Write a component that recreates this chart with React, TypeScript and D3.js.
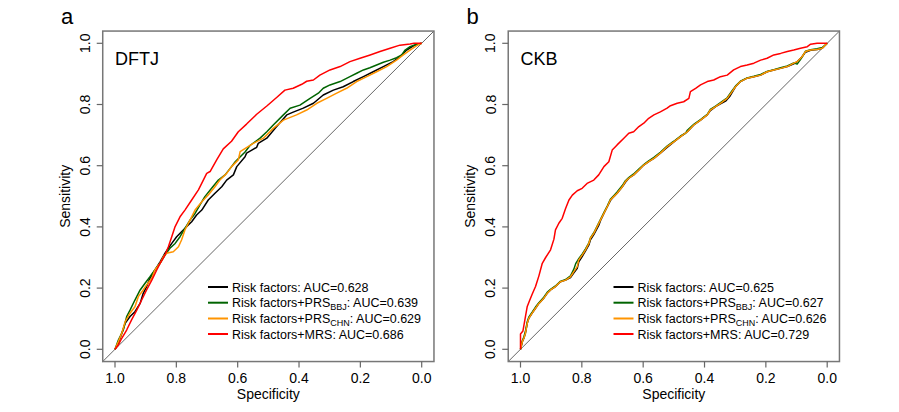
import React from "react";
import * as d3 from "d3";

type Pt = [number, number];

// ---- Panel a (DFTJ): [specificity, sensitivity]
const dftjRisk: Pt[] = [[1,0],[0.989,0.020],[0.978,0.052],[0.967,0.085],[0.951,0.107],[0.935,0.123],[0.918,0.150],[0.908,0.183],[0.897,0.205],[0.886,0.232],[0.870,0.259],[0.853,0.286],[0.837,0.314],[0.815,0.346],[0.799,0.368],[0.783,0.384],[0.766,0.401],[0.750,0.417],[0.734,0.439],[0.717,0.455],[0.696,0.488],[0.674,0.510],[0.652,0.531],[0.636,0.553],[0.614,0.570],[0.603,0.597],[0.576,0.629],[0.571,0.641],[0.554,0.651],[0.538,0.660],[0.533,0.673],[0.505,0.690],[0.473,0.728],[0.440,0.766],[0.419,0.775],[0.386,0.788],[0.353,0.804],[0.321,0.831],[0.288,0.847],[0.256,0.858],[0.223,0.875],[0.190,0.891],[0.158,0.907],[0.125,0.924],[0.093,0.940],[0.071,0.956],[0.049,0.978],[0.027,0.992],[0,1]];
const dftjBBJ: Pt[] = [[1,0],[0.989,0.030],[0.973,0.063],[0.962,0.107],[0.951,0.128],[0.935,0.161],[0.918,0.194],[0.902,0.216],[0.886,0.237],[0.870,0.259],[0.853,0.281],[0.837,0.308],[0.821,0.330],[0.804,0.346],[0.788,0.368],[0.772,0.395],[0.755,0.423],[0.739,0.444],[0.723,0.472],[0.707,0.499],[0.685,0.526],[0.663,0.553],[0.641,0.570],[0.620,0.597],[0.608,0.613],[0.576,0.645],[0.560,0.666],[0.527,0.690],[0.505,0.711],[0.484,0.733],[0.451,0.766],[0.429,0.788],[0.397,0.798],[0.364,0.820],[0.337,0.837],[0.321,0.853],[0.299,0.864],[0.266,0.875],[0.234,0.891],[0.212,0.902],[0.190,0.913],[0.169,0.920],[0.147,0.929],[0.125,0.938],[0.103,0.945],[0.082,0.953],[0.065,0.962],[0.054,0.978],[0.038,0.989],[0.016,0.997],[0,1]];
const dftjCHN: Pt[] = [[1,0],[0.989,0.025],[0.978,0.052],[0.967,0.090],[0.951,0.118],[0.935,0.139],[0.924,0.172],[0.908,0.194],[0.897,0.210],[0.880,0.232],[0.870,0.259],[0.853,0.281],[0.842,0.303],[0.832,0.314],[0.810,0.319],[0.793,0.335],[0.783,0.357],[0.772,0.390],[0.755,0.423],[0.739,0.455],[0.717,0.482],[0.696,0.504],[0.674,0.531],[0.658,0.553],[0.636,0.575],[0.620,0.597],[0.598,0.619],[0.592,0.646],[0.570,0.660],[0.549,0.673],[0.516,0.690],[0.484,0.722],[0.451,0.749],[0.408,0.766],[0.375,0.782],[0.342,0.804],[0.310,0.820],[0.277,0.837],[0.245,0.853],[0.212,0.875],[0.179,0.891],[0.147,0.907],[0.114,0.924],[0.082,0.945],[0.060,0.962],[0.038,0.978],[0.015,0.993],[0,1]];
const dftjMRS: Pt[] = [[1,0],[0.989,0.014],[0.978,0.036],[0.962,0.063],[0.946,0.096],[0.929,0.128],[0.913,0.161],[0.897,0.194],[0.880,0.226],[0.864,0.259],[0.853,0.281],[0.837,0.308],[0.826,0.335],[0.815,0.368],[0.804,0.401],[0.788,0.433],[0.772,0.455],[0.750,0.488],[0.728,0.521],[0.712,0.553],[0.701,0.575],[0.690,0.581],[0.668,0.620],[0.647,0.655],[0.620,0.680],[0.598,0.711],[0.571,0.736],[0.538,0.768],[0.505,0.795],[0.473,0.823],[0.446,0.847],[0.419,0.853],[0.391,0.866],[0.375,0.876],[0.353,0.880],[0.332,0.896],[0.299,0.913],[0.266,0.924],[0.234,0.940],[0.201,0.951],[0.168,0.962],[0.136,0.973],[0.103,0.984],[0.071,0.994],[0.038,0.998],[0.025,1.0],[0,1]];

// ---- Panel b (CKB)
const ckbRisk: Pt[] = [[1,0],[0.994,0.025],[0.989,0.036],[0.984,0.052],[0.978,0.085],[0.973,0.101],[0.962,0.118],[0.951,0.134],[0.940,0.150],[0.924,0.167],[0.913,0.183],[0.902,0.194],[0.886,0.205],[0.870,0.221],[0.853,0.226],[0.837,0.234],[0.826,0.250],[0.815,0.265],[0.810,0.286],[0.799,0.303],[0.788,0.322],[0.777,0.341],[0.772,0.358],[0.761,0.375],[0.745,0.405],[0.739,0.421],[0.728,0.444],[0.717,0.466],[0.707,0.486],[0.696,0.499],[0.685,0.510],[0.668,0.531],[0.658,0.546],[0.647,0.559],[0.631,0.570],[0.614,0.586],[0.598,0.602],[0.582,0.613],[0.565,0.624],[0.544,0.641],[0.522,0.660],[0.500,0.678],[0.478,0.695],[0.456,0.711],[0.435,0.733],[0.413,0.749],[0.391,0.766],[0.381,0.780],[0.364,0.793],[0.348,0.802],[0.330,0.812],[0.318,0.826],[0.305,0.848],[0.299,0.858],[0.283,0.875],[0.261,0.886],[0.239,0.891],[0.217,0.896],[0.196,0.907],[0.174,0.913],[0.152,0.918],[0.130,0.924],[0.109,0.933],[0.098,0.940],[0.082,0.956],[0.071,0.971],[0.054,0.977],[0.033,0.980],[0.016,0.984],[0,1]];
const ckbBBJ: Pt[] = [[1,0],[0.994,0.028],[0.989,0.040],[0.984,0.058],[0.978,0.090],[0.973,0.105],[0.962,0.121],[0.951,0.138],[0.940,0.152],[0.924,0.170],[0.913,0.186],[0.902,0.196],[0.886,0.207],[0.870,0.222],[0.853,0.228],[0.837,0.240],[0.826,0.262],[0.820,0.280],[0.810,0.296],[0.799,0.311],[0.788,0.328],[0.777,0.348],[0.772,0.364],[0.761,0.381],[0.750,0.403],[0.739,0.425],[0.728,0.447],[0.717,0.468],[0.707,0.490],[0.696,0.502],[0.685,0.514],[0.668,0.535],[0.658,0.551],[0.647,0.561],[0.631,0.573],[0.614,0.589],[0.598,0.604],[0.582,0.616],[0.565,0.627],[0.544,0.644],[0.522,0.664],[0.500,0.680],[0.478,0.697],[0.462,0.706],[0.456,0.716],[0.435,0.735],[0.413,0.751],[0.391,0.768],[0.381,0.784],[0.364,0.795],[0.348,0.806],[0.326,0.822],[0.310,0.845],[0.299,0.860],[0.283,0.876],[0.261,0.887],[0.239,0.892],[0.217,0.898],[0.196,0.908],[0.174,0.914],[0.152,0.920],[0.130,0.926],[0.109,0.936],[0.098,0.932],[0.085,0.950],[0.071,0.974],[0.054,0.979],[0.033,0.982],[0.016,0.986],[0,1]];
const ckbCHN: Pt[] = [[1,0],[0.994,0.025],[0.989,0.036],[0.984,0.052],[0.978,0.085],[0.973,0.101],[0.962,0.118],[0.951,0.134],[0.940,0.150],[0.924,0.167],[0.913,0.183],[0.902,0.194],[0.886,0.205],[0.870,0.221],[0.853,0.226],[0.837,0.237],[0.826,0.254],[0.815,0.270],[0.810,0.292],[0.799,0.308],[0.788,0.325],[0.777,0.346],[0.772,0.363],[0.761,0.379],[0.750,0.401],[0.739,0.423],[0.728,0.444],[0.717,0.466],[0.707,0.488],[0.696,0.499],[0.685,0.510],[0.668,0.531],[0.658,0.548],[0.647,0.559],[0.631,0.570],[0.614,0.586],[0.598,0.602],[0.582,0.613],[0.565,0.624],[0.544,0.641],[0.522,0.662],[0.500,0.678],[0.478,0.695],[0.456,0.711],[0.435,0.733],[0.413,0.749],[0.391,0.766],[0.381,0.782],[0.364,0.793],[0.348,0.804],[0.326,0.820],[0.310,0.842],[0.299,0.858],[0.283,0.875],[0.261,0.886],[0.239,0.891],[0.217,0.896],[0.196,0.907],[0.174,0.913],[0.152,0.918],[0.130,0.924],[0.109,0.935],[0.098,0.940],[0.082,0.956],[0.071,0.973],[0.054,0.978],[0.033,0.980],[0.016,0.984],[0,1]];
const ckbMRS: Pt[] = [[1,0],[1,0.05],[0.992,0.06],[0.985,0.10],[0.978,0.14],[0.970,0.16],[0.962,0.180],[0.951,0.205],[0.940,0.240],[0.929,0.281],[0.918,0.300],[0.902,0.325],[0.891,0.360],[0.886,0.390],[0.875,0.412],[0.864,0.428],[0.853,0.460],[0.842,0.488],[0.831,0.504],[0.815,0.518],[0.799,0.526],[0.783,0.542],[0.761,0.553],[0.745,0.570],[0.728,0.597],[0.712,0.613],[0.701,0.651],[0.685,0.668],[0.663,0.690],[0.647,0.706],[0.631,0.711],[0.614,0.728],[0.598,0.739],[0.582,0.755],[0.565,0.766],[0.544,0.776],[0.522,0.788],[0.511,0.796],[0.489,0.804],[0.468,0.809],[0.451,0.820],[0.446,0.842],[0.429,0.853],[0.413,0.864],[0.391,0.875],[0.370,0.880],[0.348,0.891],[0.326,0.896],[0.305,0.913],[0.283,0.924],[0.261,0.929],[0.239,0.935],[0.217,0.945],[0.196,0.951],[0.174,0.962],[0.152,0.967],[0.130,0.973],[0.109,0.978],[0.087,0.984],[0.065,0.989],[0.054,0.997],[0.033,1.0],[0,1]];

const ticks = [1.0, 0.8, 0.6, 0.4, 0.2, 0.0];
const tickLabels = ["1.0", "0.8", "0.6", "0.4", "0.2", "0.0"];
const seriesColors = ["#000000", "#006400", "#FF9400", "#FF0000"];
const legendNames = ["Risk factors", "Risk factors+PRS", "Risk factors+PRS", "Risk factors+MRS"];
const legendSubs = ["", "BBJ", "CHN", ""];
const aucA = ["0.628", "0.639", "0.629", "0.686"];
const aucB = ["0.625", "0.627", "0.626", "0.729"];

const FONT = "'Liberation Sans', Arial, Helvetica, sans-serif";

const yScale = d3.scaleLinear().domain([0, 1]).range([349.3, 43.3]);

interface PanelProps {
  x0: number;
  letter: string;
  title: string;
  series: Pt[][];
  aucs: string[];
}

function Panel({ x0, letter, title, series, aucs }: PanelProps) {
  const xScale = d3.scaleLinear().domain([1, 0]).range([x0, x0 + 306.7]);
  const line = d3
    .line<Pt>()
    .x((d) => xScale(d[0]))
    .y((d) => yScale(d[1]));
  const bx0 = xScale(1.04), bx1 = xScale(-0.04);
  const by0 = yScale(1.04), by1 = yScale(-0.04);
  const legX = x0 + 93;
  const legRows = [287, 302.7, 318.5, 334];
  const order = [0, 1, 2, 3];
  return (
    <g>
      <text x={x0 - 54} y={24} fontSize={22} fontFamily={FONT}>{letter}</text>
      {/* diagonal */}
      <line x1={bx0} y1={by1} x2={bx1} y2={by0} stroke="#555" strokeWidth={0.9} />
      {/* curves */}
      {order.map((i) => (
        <path key={i} d={line(series[i]) || ""} fill="none" stroke={seriesColors[i]} strokeWidth={1.5} strokeLinejoin="round" />
      ))}
      {/* box */}
      <rect x={bx0} y={by0} width={bx1 - bx0} height={by1 - by0} fill="none" stroke="#777" strokeWidth={1.5} />
      {/* x axis */}
      {ticks.map((t, i) => (
        <g key={"x" + i}>
          <line x1={xScale(t)} x2={xScale(t)} y1={by1} y2={by1 + 6} stroke="#666" strokeWidth={1.2} />
          <text x={xScale(t)} y={383} textAnchor="middle" fontSize={14} fontFamily={FONT}>{tickLabels[i]}</text>
        </g>
      ))}
      <text x={(xScale(1) + xScale(0)) / 2} y={398.5} textAnchor="middle" fontSize={14} fontFamily={FONT}>Specificity</text>
      {/* y axis */}
      {ticks.map((t, i) => (
        <g key={"y" + i}>
          <line x1={bx0 - 6} x2={bx0} y1={yScale(t)} y2={yScale(t)} stroke="#666" strokeWidth={1.2} />
          <text x={x0 - 25} y={yScale(t)} transform={`rotate(-90, ${x0 - 25}, ${yScale(t)})`} textAnchor="middle" fontSize={14} fontFamily={FONT}>{tickLabels[i]}</text>
        </g>
      ))}
      <text x={x0 - 45} y={(yScale(0) + yScale(1)) / 2} transform={`rotate(-90, ${x0 - 45}, ${(yScale(0) + yScale(1)) / 2})`} textAnchor="middle" fontSize={14} fontFamily={FONT}>Sensitivity</text>
      {/* title */}
      <text x={x0} y={65} fontSize={18} fontFamily={FONT}>{title}</text>
      {/* legend */}
      {order.map((i) => (
        <g key={"l" + i}>
          <line x1={legX} x2={legX + 20} y1={legRows[i]} y2={legRows[i]} stroke={seriesColors[i]} strokeWidth={2} />
          <text x={legX + 24} y={legRows[i] + 4.5} fontSize={12.5} fontFamily={FONT}>
            {legendNames[i]}
            {legendSubs[i] ? (
              <>
                <tspan fontSize={9} dy={3}>{legendSubs[i]}</tspan>
                <tspan dy={-3}>{`: AUC=${aucs[i]}`}</tspan>
              </>
            ) : (
              <tspan>{`: AUC=${aucs[i]}`}</tspan>
            )}
          </text>
        </g>
      ))}
    </g>
  );
}

export default function App() {
  return (
    <svg width={899} height={412} style={{ position: "absolute", left: 0, top: 0, background: "#fff" }}>
      <rect x={0} y={0} width={899} height={412} fill="#fff" />
      <Panel x0={115} letter="a" title="DFTJ" series={[dftjRisk, dftjBBJ, dftjCHN, dftjMRS]} aucs={aucA} />
      <Panel x0={520.5} letter="b" title="CKB" series={[ckbRisk, ckbBBJ, ckbCHN, ckbMRS]} aucs={aucB} />
    </svg>
  );
}
